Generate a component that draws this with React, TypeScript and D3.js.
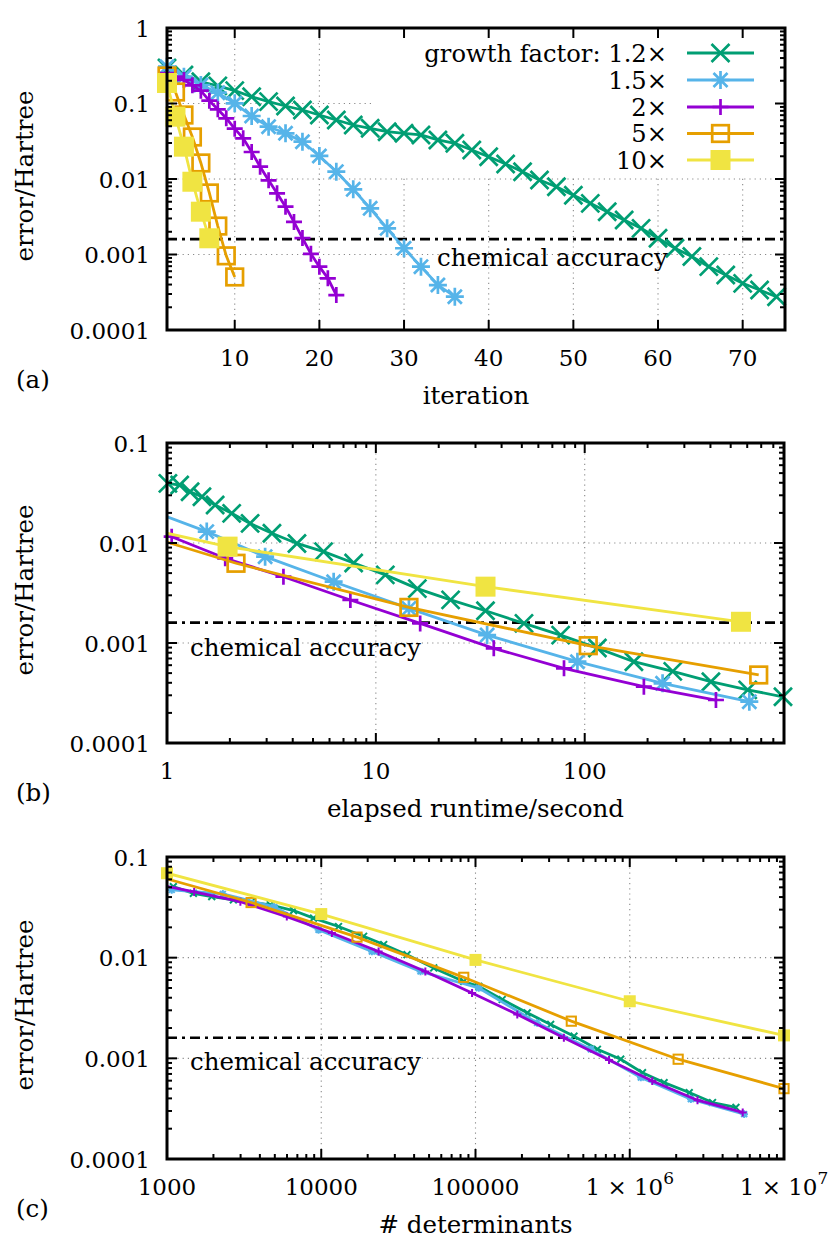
import React from "react";
import * as d3 from "d3";

// ---------------- data ----------------
const seriesNames = ["growth factor: 1.2×", "1.5×", "2×", "5×", "10×"];
const chemicalAccuracy = 0.0016;

// (a) error / Hartree vs iteration
const iterA_g12 = [2, 4, 6, 8, 10, 12, 14, 16, 18, 20, 22, 24, 26, 28, 30, 32, 34, 36, 38, 40, 42, 44, 46, 48, 50, 52, 54, 56, 58, 60, 62, 64, 66, 68, 70, 72, 74];
const errA_g12 = [0.295, 0.238, 0.194, 0.171, 0.148, 0.123, 0.106, 0.0927, 0.082, 0.0704, 0.0605, 0.0519, 0.0469, 0.0423, 0.0403, 0.0383, 0.0329, 0.0297, 0.0242, 0.0197, 0.0158, 0.0125, 0.0097, 0.0079, 0.0061, 0.00476, 0.00369, 0.00286, 0.00222, 0.00164, 0.00121, 0.00094, 0.00069, 0.000535, 0.000415, 0.000339, 0.000276];
const iterA_g15 = [2, 4, 6, 8, 10, 12, 14, 16, 18, 20, 22, 24, 26, 28, 30, 32, 34, 36];
const errA_g15 = [0.307, 0.2265, 0.1758, 0.139, 0.1006, 0.0683, 0.0493, 0.0403, 0.0312, 0.0202, 0.0125, 0.0073, 0.00409, 0.00222, 0.00121, 0.00069, 0.000394, 0.000276];
const iterA_g2 = [2, 3, 4, 5, 6, 7, 8, 9, 10, 11, 12, 13, 14, 15, 16, 17, 18, 19, 20, 21, 22];
const errA_g2 = [0.2535, 0.2265, 0.2048, 0.1742, 0.1477, 0.1089, 0.0838, 0.0637, 0.0464, 0.0346, 0.0228, 0.01455, 0.0096, 0.00646, 0.0043, 0.0027, 0.00165, 0.00102, 0.00069, 0.000484, 0.00029];
const iterA_g5 = [2, 3, 4, 5, 6, 7, 8, 9, 10];
const errA_g5 = [0.2313, 0.142, 0.0704, 0.036, 0.0163, 0.00653, 0.00238, 0.00096, 0.000504];
const iterA_g10 = [2, 3, 4, 5, 6, 7];
const errA_g10 = [0.187, 0.0669, 0.0268, 0.0092, 0.00369, 0.00164];

// (b) error / Hartree vs elapsed runtime / second
const timeB_g12 = [1.01, 1.15, 1.29, 1.47, 1.7, 2.04, 2.5, 3.18, 4.19, 5.62, 7.83, 11.1, 15.8, 22.8, 33.5, 51.2, 76.7, 115, 172, 264, 402, 603, 890];
const errB_g12 = [0.0395, 0.038, 0.0326, 0.029, 0.024, 0.0198, 0.0157, 0.0125, 0.0099, 0.0082, 0.0063, 0.0048, 0.0035, 0.0027, 0.0021, 0.00157, 0.0012, 0.00089, 0.00065, 0.00052, 0.00041, 0.00034, 0.00029];
const timeB_g15 = [0.88, 1.55, 2.95, 6.28, 14.4, 34.1, 92.3, 236, 614];
const errB_g15 = [0.0202, 0.013, 0.0073, 0.0041, 0.00222, 0.0012, 0.00065, 0.000395, 0.000259];
const timeB_g2 = [1.053, 1.9, 3.61, 7.55, 16.3, 36.7, 79.6, 192, 425];
const errB_g2 = [0.01156, 0.00703, 0.0046, 0.00269, 0.00157, 0.000885, 0.000558, 0.000366, 0.000269];
const timeB_g5 = [0.48, 2.14, 14.4, 104, 681];
const errB_g5 = [0.0163, 0.00627, 0.00227, 0.00094, 0.000479];
const timeB_g10 = [0.19, 1.95, 33.5, 560];
const errB_g10 = [0.0268, 0.0092, 0.00366, 0.00163];

// (c) error / Hartree vs number of determinants
const detC_g12 = [1099, 1483, 1950, 2694, 3510, 4670, 6610, 8910, 12940, 18820, 25400, 36000, 53600, 83900, 105000, 149000, 216500, 307000, 435000, 617000, 874000, 1210000, 1670000, 2430000, 3440000, 4880000];
const errC_g12 = [0.0508, 0.0436, 0.0404, 0.0375, 0.0355, 0.0335, 0.0294, 0.0247, 0.0204, 0.0163, 0.0135, 0.0107, 0.0079, 0.0058, 0.0052, 0.00384, 0.00283, 0.00217, 0.00166, 0.00123, 0.00098, 0.00072, 0.000574, 0.000457, 0.000364, 0.000325];
const detC_g15 = [1073, 2300, 4950, 9600, 21300, 44000, 105000, 251000, 559000, 1180000, 2490000, 5520000];
const errC_g15 = [0.0471, 0.043, 0.032, 0.0189, 0.0115, 0.0073, 0.005, 0.00225, 0.00123, 0.000644, 0.000393, 0.000279];
const detC_g2 = [750, 1500, 2990, 5980, 11720, 23540, 47300, 95000, 186600, 374000, 734000, 1400000, 2750000, 5400000];
const errC_g2 = [0.056, 0.045, 0.036, 0.0256, 0.0176, 0.0115, 0.0073, 0.00446, 0.00273, 0.0016, 0.00096, 0.000596, 0.000384, 0.00029];
const detC_g5 = [702, 3509, 17060, 83900, 418000, 2060000, 10000000];
const errC_g5 = [0.0706, 0.0353, 0.016, 0.00638, 0.00234, 0.00098, 0.0005];
const detC_g10 = [1000, 10000, 100000, 1000000, 10000000];
const errC_g10 = [0.069, 0.0271, 0.0095, 0.00369, 0.00169];

// tick values / labels
const xTicksA = [10, 20, 30, 40, 50, 60, 70];
const xLabelsA = ["10", "20", "30", "40", "50", "60", "70"];
const xTicksB = [1, 10, 100];
const xLabelsB = ["1", "10", "100"];
const xTicksC = [1000, 10000, 100000, 1000000, 10000000];
const xLabelsC = ["1000", "10000", "100000", "1 × 10^6", "1 × 10^7"];
const yTicksA = [1, 0.1, 0.01, 0.001, 0.0001];
const yLabelsA = ["1", "0.1", "0.01", "0.001", "0.0001"];
const yTicksBC = [0.1, 0.01, 0.001, 0.0001];
const yLabelsBC = ["0.1", "0.01", "0.001", "0.0001"];

// ---------------- styles ----------------
const FONT = "DejaVu Serif";
const colors = ["#009e73", "#56b4e9", "#9400d3", "#e69f00", "#f0e442"];
const markerTypes = ["cross", "star", "plus", "square", "filled"];
const bigMarkers = { cross: 9, star: 9, plus: 8, square: 8.3, filled: 10, sw: 2.7, lw: 2.8 };
const smallMarkers = { cross: 3.4, star: 3.8, plus: 4, square: 4.6, filled: 6, sw: 2, lw: 2.8 };
const FS_TICK = 23;
const FS_TEXT = 24.5;
const FS_LEGEND = 24.2;

type Box = { l: number; r: number; t: number; b: number };

function marker(type: string, x: number, y: number, sz: any, color: string, key: string) {
  const s = sz[type];
  const sw = sz.sw;
  if (type === "cross")
    return <path key={key} d={`M${x - s},${y - s}L${x + s},${y + s}M${x - s},${y + s}L${x + s},${y - s}`} stroke={color} strokeWidth={sw} fill="none" />;
  if (type === "plus")
    return <path key={key} d={`M${x - s},${y}L${x + s},${y}M${x},${y - s}L${x},${y + s}`} stroke={color} strokeWidth={sw} fill="none" />;
  if (type === "star") {
    const d = s * 0.78;
    return <path key={key} d={`M${x - s},${y}L${x + s},${y}M${x},${y - s}L${x},${y + s}M${x - d},${y - d}L${x + d},${y + d}M${x - d},${y + d}L${x + d},${y - d}`} stroke={color} strokeWidth={sw} fill="none" />;
  }
  if (type === "square")
    return <rect key={key} x={x - s} y={y - s} width={2 * s} height={2 * s} stroke={color} strokeWidth={sw} fill="none" />;
  return <rect key={key} x={x - s} y={y - s} width={2 * s} height={2 * s} fill={color} />;
}

function logMinor(lo: number, hi: number) {
  const out: number[] = [];
  for (let e = Math.floor(Math.log10(lo)); e <= Math.ceil(Math.log10(hi)); e++) {
    for (let k = 2; k <= 9; k++) {
      const v = k * Math.pow(10, e);
      if (v > lo * 1.0001 && v < hi * 0.9999) out.push(v);
    }
  }
  return out;
}

const txt = { fontFamily: FONT };

function tickLabel(label: string, x: number, y: number, key: string) {
  const parts = label.split("^");
  if (parts.length === 1)
    return <text key={key} x={x} y={y} textAnchor="middle" fontSize={FS_TICK} style={txt}>{label}</text>;
  return (
    <text key={key} x={x} y={y} textAnchor="middle" fontSize={FS_TICK} style={txt}>
      {parts[0]}
      <tspan dy={-11} fontSize={17}>{parts[1]}</tspan>
    </text>
  );
}

type PanelCfg = {
  id: string;
  box: Box;
  xLog: boolean;
  xDomain: [number, number];
  yDomain: [number, number];
  xTicks: number[];
  xLabels: string[];
  yTicks: number[];
  yLabels: string[];
  series: { x: number[]; y: number[] }[];
  sizes: any;
  chemX: number;
  chemY: number;
  xTitle: string;
  tag: string;
  legend: boolean;
};

function Panel({ cfg }: { cfg: PanelCfg }) {
  const { box } = cfg;
  const xs: any = cfg.xLog
    ? d3.scaleLog().domain(cfg.xDomain).range([box.l, box.r])
    : d3.scaleLinear().domain(cfg.xDomain).range([box.l, box.r]);
  const ys = d3.scaleLog().domain(cfg.yDomain).range([box.b, box.t]);
  const xMinor = cfg.xLog ? logMinor(cfg.xDomain[0], cfg.xDomain[1]) : [];
  const yMinor = logMinor(cfg.yDomain[0], cfg.yDomain[1]);
  const inX = (v: number) => v >= cfg.xDomain[0] * 0.99999 && v <= cfg.xDomain[1] * 1.00001;
  const inY = (v: number) => v >= cfg.yDomain[0] * 0.99999 && v <= cfg.yDomain[1] * 1.00001;
  const gridX = cfg.xTicks.filter((v) => v > cfg.xDomain[0] && v < cfg.xDomain[1]);
  const gridY = cfg.yTicks.filter((v) => v > cfg.yDomain[0] && v < cfg.yDomain[1]);
  const lineGen = d3.line<[number, number]>().x((d) => xs(d[0])).y((d) => ys(d[1]));
  const Mj = 10, Mn = 5;
  const cyMid = (box.t + box.b) / 2;
  const legendRows = [53, 80, 107, 133.5, 160];

  return (
    <g>
      <defs>
        <clipPath id={`clip-${cfg.id}`}>
          <rect x={box.l} y={box.t} width={box.r - box.l} height={box.b - box.t} />
        </clipPath>
      </defs>
      {/* grid */}
      <g stroke="#8a8a8a" strokeWidth={1.1} strokeDasharray="1.2,4">
        {gridX.map((v, i) => (
          <line key={`gx${i}`} x1={xs(v)} x2={xs(v)} y1={box.t} y2={box.b} />
        ))}
        {gridY.map((v, i) => (
          <line key={`gy${i}`} x1={box.l} x2={box.r} y1={ys(v)} y2={ys(v)} />
        ))}
      </g>
      {cfg.legend && <rect x={372} y={box.t + 1.5} width={box.r - 372 - 1.5} height={176 - box.t} fill="#fff" />}
      {/* chemical accuracy */}
      <line x1={box.l} x2={box.r} y1={ys(chemicalAccuracy)} y2={ys(chemicalAccuracy)} stroke="#000" strokeWidth={2.6} strokeDasharray="10,5,3,5" />
      {/* series */}
      {cfg.series.map((s, si) => {
        const pts: [number, number][] = s.x.map((xv, i) => [xv, s.y[i]]);
        return (
          <g key={`s${si}`}>
            <path d={lineGen(pts) || ""} fill="none" stroke={colors[si]} strokeWidth={cfg.sizes.lw} clipPath={`url(#clip-${cfg.id})`} />
            {pts.filter((p) => inX(p[0]) && inY(p[1])).map((p, i) => marker(markerTypes[si], xs(p[0]), ys(p[1]), cfg.sizes, colors[si], `m${si}-${i}`))}
          </g>
        );
      })}
      {/* border */}
      <rect x={box.l} y={box.t} width={box.r - box.l} height={box.b - box.t} fill="none" stroke="#000" strokeWidth={3} />
      {/* ticks */}
      <g stroke="#000" strokeWidth={2}>
        {cfg.xTicks.map((v, i) => (
          <g key={`xt${i}`}>
            <line x1={xs(v)} x2={xs(v)} y1={box.b} y2={box.b - Mj} />
            <line x1={xs(v)} x2={xs(v)} y1={box.t} y2={box.t + Mj} />
          </g>
        ))}
        {xMinor.map((v, i) => (
          <g key={`xm${i}`}>
            <line x1={xs(v)} x2={xs(v)} y1={box.b} y2={box.b - Mn} />
            <line x1={xs(v)} x2={xs(v)} y1={box.t} y2={box.t + Mn} />
          </g>
        ))}
        {cfg.yTicks.map((v, i) => (
          <g key={`yt${i}`}>
            <line x1={box.l} x2={box.l + Mj} y1={ys(v)} y2={ys(v)} />
            <line x1={box.r} x2={box.r - Mj} y1={ys(v)} y2={ys(v)} />
          </g>
        ))}
        {yMinor.map((v, i) => (
          <g key={`ym${i}`}>
            <line x1={box.l} x2={box.l + Mn} y1={ys(v)} y2={ys(v)} />
            <line x1={box.r} x2={box.r - Mn} y1={ys(v)} y2={ys(v)} />
          </g>
        ))}
      </g>
      {/* tick labels */}
      {cfg.xTicks.map((v, i) => tickLabel(cfg.xLabels[i], xs(v), box.b + 36, `xl${i}`))}
      {cfg.yTicks.map((v, i) => (
        <text key={`yl${i}`} x={150} y={ys(v) + 8.5} textAnchor="end" fontSize={FS_TICK} style={txt}>{cfg.yLabels[i]}</text>
      ))}
      {/* titles */}
      <text x={(box.l + box.r) / 2} y={box.b + 74} textAnchor="middle" fontSize={FS_TEXT} style={txt}>{cfg.xTitle}</text>
      <text transform={`translate(33,${cyMid - 3}) rotate(-90)`} textAnchor="middle" fontSize={FS_TEXT} style={txt}>error/Hartree</text>
      <text x={16} y={box.b + 58} fontSize={FS_TEXT} style={txt}>{cfg.tag}</text>
      <text x={cfg.chemX} y={cfg.chemY} fontSize={FS_TEXT} style={txt}>chemical accuracy</text>
      {cfg.legend &&
        seriesNames.map((nm, i) => (
          <g key={`lg${i}`}>
            <text x={667} y={legendRows[i] + 8.5} textAnchor="end" fontSize={FS_LEGEND} style={txt}>{nm}</text>
            <line x1={687} x2={754} y1={legendRows[i]} y2={legendRows[i]} stroke={colors[i]} strokeWidth={cfg.sizes.lw} />
            {marker(markerTypes[i], 720.5, legendRows[i], cfg.sizes, colors[i], `lm${i}`)}
          </g>
        ))}
    </g>
  );
}

export default function App() {
  const panels: PanelCfg[] = [
    {
      id: "a",
      box: { l: 167, r: 785, t: 28, b: 330 },
      xLog: false,
      xDomain: [2, 75],
      yDomain: [0.0001, 1],
      xTicks: xTicksA,
      xLabels: xLabelsA,
      yTicks: yTicksA,
      yLabels: yLabelsA,
      series: [
        { x: iterA_g12, y: errA_g12 },
        { x: iterA_g15, y: errA_g15 },
        { x: iterA_g2, y: errA_g2 },
        { x: iterA_g5, y: errA_g5 },
        { x: iterA_g10, y: errA_g10 },
      ],
      sizes: bigMarkers,
      chemX: 437,
      chemY: 266,
      xTitle: "iteration",
      tag: "(a)",
      legend: true,
    },
    {
      id: "b",
      box: { l: 167, r: 784, t: 443, b: 743 },
      xLog: true,
      xDomain: [1, 900],
      yDomain: [0.0001, 0.1],
      xTicks: xTicksB,
      xLabels: xLabelsB,
      yTicks: yTicksBC,
      yLabels: yLabelsBC,
      series: [
        { x: timeB_g12, y: errB_g12 },
        { x: timeB_g15, y: errB_g15 },
        { x: timeB_g2, y: errB_g2 },
        { x: timeB_g5, y: errB_g5 },
        { x: timeB_g10, y: errB_g10 },
      ],
      sizes: bigMarkers,
      chemX: 190,
      chemY: 656,
      xTitle: "elapsed runtime/second",
      tag: "(b)",
      legend: false,
    },
    {
      id: "c",
      box: { l: 167, r: 784, t: 857, b: 1159 },
      xLog: true,
      xDomain: [1000, 10000000],
      yDomain: [0.0001, 0.1],
      xTicks: xTicksC,
      xLabels: xLabelsC,
      yTicks: yTicksBC,
      yLabels: yLabelsBC,
      series: [
        { x: detC_g12, y: errC_g12 },
        { x: detC_g15, y: errC_g15 },
        { x: detC_g2, y: errC_g2 },
        { x: detC_g5, y: errC_g5 },
        { x: detC_g10, y: errC_g10 },
      ],
      sizes: smallMarkers,
      chemX: 190,
      chemY: 1070,
      xTitle: "# determinants",
      tag: "(c)",
      legend: false,
    },
  ];
  return (
    <svg
      width={830}
      height={1246}
      viewBox="0 0 830 1246"
      style={{ position: "absolute", left: 0, top: 0, background: "#fff", fontFamily: FONT }}
    >
      <rect x={0} y={0} width={830} height={1246} fill="#fff" />
      {panels.map((p) => (
        <Panel key={p.id} cfg={p} />
      ))}
    </svg>
  );
}
